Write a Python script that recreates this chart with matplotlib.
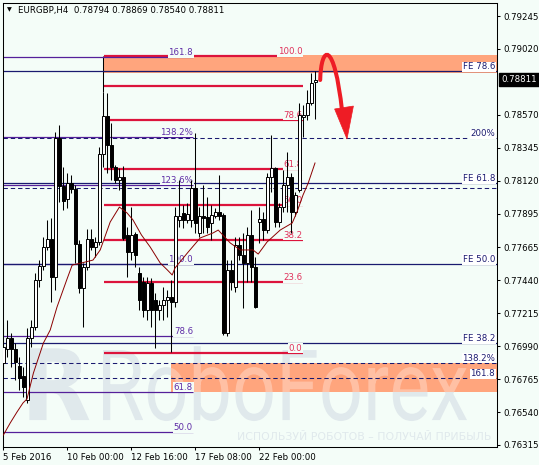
import matplotlib
matplotlib.use("Agg")
import matplotlib.pyplot as plt
import matplotlib.transforms as mtransforms
from matplotlib.patches import Rectangle, Polygon, PathPatch
from matplotlib.path import Path
from matplotlib.textpath import TextPath
from matplotlib.font_manager import FontProperties

# EURGBP H4 candles, 5 Feb - 23 Feb 2016
opens = [
    0.76875, 0.76970, 0.77046, 0.76970, 0.76854, 0.76786, 0.76622, 0.77046, 0.77121, 0.77442,
    0.77537, 0.77667, 0.77722, 0.77462, 0.78411, 0.78084, 0.77995, 0.78104, 0.78063, 0.77688,
    0.77387, 0.77530, 0.77722, 0.77667, 0.77701, 0.78302, 0.78562, 0.78364, 0.78213, 0.78125,
    0.78145, 0.77749, 0.77633, 0.77756, 0.77489, 0.77428, 0.77237, 0.77421, 0.77305, 0.77237,
    0.77271, 0.77305, 0.77326, 0.77291, 0.77851, 0.77899, 0.77851, 0.77851, 0.78070, 0.77763,
    0.77879, 0.77872, 0.77831, 0.77879, 0.77906, 0.77886, 0.77080, 0.77510, 0.77394, 0.77681,
    0.77612, 0.77558, 0.77749, 0.77530, 0.77838, 0.77858, 0.77783, 0.78145, 0.78207, 0.77838,
    0.77940, 0.78090, 0.78145, 0.77906, 0.78056, 0.78555, 0.78569, 0.78651, 0.78794]
highs = [
    0.77148, 0.77168, 0.77080, 0.77011, 0.76916, 0.76847, 0.77114, 0.77168, 0.77489, 0.77578,
    0.77735, 0.77851, 0.77865, 0.78452, 0.78500, 0.78213, 0.78172, 0.78159, 0.78090, 0.77715,
    0.77558, 0.77790, 0.77790, 0.77735, 0.78350, 0.78726, 0.78719, 0.78514, 0.78227, 0.78207,
    0.78220, 0.77804, 0.77940, 0.77769, 0.77530, 0.77462, 0.77462, 0.77455, 0.77353, 0.77305,
    0.77394, 0.77373, 0.77442, 0.77940, 0.78125, 0.77954, 0.77968, 0.78125, 0.78446, 0.77940,
    0.78090, 0.78009, 0.77954, 0.77933, 0.78159, 0.77899, 0.77578, 0.77578, 0.77735, 0.77735,
    0.77763, 0.77804, 0.77920, 0.77599, 0.77940, 0.77906, 0.78172, 0.78432, 0.78213, 0.77968,
    0.78193, 0.78316, 0.78172, 0.78043, 0.78651, 0.78637, 0.78739, 0.78855, 0.78869]
lows = [
    0.76806, 0.76916, 0.76847, 0.76759, 0.76690, 0.76643, 0.76602, 0.76984, 0.77100, 0.77394,
    0.77510, 0.77647, 0.77291, 0.77373, 0.77974, 0.77920, 0.77933, 0.78036, 0.77558, 0.77353,
    0.77121, 0.77510, 0.77647, 0.77599, 0.77681, 0.78213, 0.78172, 0.78125, 0.78104, 0.78056,
    0.77715, 0.77462, 0.77578, 0.77530, 0.77237, 0.77189, 0.77168, 0.77121, 0.76977, 0.77168,
    0.77168, 0.77189, 0.76950, 0.77257, 0.77804, 0.77797, 0.77831, 0.77804, 0.77763, 0.77735,
    0.77763, 0.77763, 0.77715, 0.77865, 0.77851, 0.77066, 0.77059, 0.77373, 0.77360, 0.77578,
    0.77250, 0.77428, 0.77428, 0.77250, 0.77694, 0.77715, 0.77763, 0.78043, 0.77804, 0.77804,
    0.77906, 0.77906, 0.77763, 0.77879, 0.78043, 0.78418, 0.78534, 0.78637, 0.78540]
closes = [
    0.76984, 0.77046, 0.76970, 0.76882, 0.76772, 0.76711, 0.77046, 0.77121, 0.77442, 0.77537,
    0.77667, 0.77722, 0.77462, 0.78411, 0.78084, 0.77981, 0.78104, 0.78063, 0.77688, 0.77387,
    0.77530, 0.77722, 0.77667, 0.77701, 0.78302, 0.78562, 0.78364, 0.78213, 0.78125, 0.78145,
    0.77728, 0.77633, 0.77749, 0.77612, 0.77305, 0.77237, 0.77421, 0.77237, 0.77237, 0.77271,
    0.77305, 0.77326, 0.77291, 0.77879, 0.77879, 0.77851, 0.77892, 0.78070, 0.77831, 0.77879,
    0.77865, 0.77804, 0.77886, 0.77906, 0.77879, 0.77080, 0.77510, 0.77428, 0.77681, 0.77612,
    0.77558, 0.77749, 0.77530, 0.77257, 0.77858, 0.77783, 0.78145, 0.78207, 0.77838, 0.77940,
    0.78090, 0.78145, 0.77906, 0.78022, 0.78569, 0.78569, 0.78651, 0.78787, 0.78811]

# moving average (bar position, price)
ma_x = [0, 1.7, 3.4, 4.9, 5.9, 7.5, 10.0, 11.7, 13.4, 15.9, 17.2, 19.5, 22.4, 24.2, 26.7,
        29.0, 30.9, 32.4, 34.5, 36.7, 39.2, 41.0, 42.2, 42.9, 46.2, 49.2, 52.4, 53.7, 56.7,
        59.2, 62.4, 63.7, 65.9, 69.2, 72.2, 73.4, 74.9, 76.2, 77.9]
ma_y = [0.76383, 0.76465, 0.76540, 0.76602, 0.76629, 0.76806, 0.77011, 0.77100, 0.77257,
        0.77448, 0.77544, 0.77558, 0.77578, 0.77647, 0.77838, 0.77940, 0.77900, 0.77852,
        0.77750, 0.77667, 0.77558, 0.77510, 0.77476, 0.77524, 0.77633, 0.77729, 0.77763,
        0.77783, 0.77695, 0.77647, 0.77647, 0.77619, 0.77701, 0.77783, 0.77831, 0.77906,
        0.78022, 0.78104, 0.78241]

date_ticks = [0, 16, 32, 48, 64]
date_labels = ["5 Feb 2016", "10 Feb 00:00", "12 Feb 16:00", "17 Feb 08:00", "22 Feb 00:00"]
price_ticks = [0.79245, 0.79020, 0.78570, 0.78345, 0.78120, 0.77895, 0.77665,
               0.77440, 0.77215, 0.76990, 0.76765, 0.76540, 0.76315]
last_price = 0.78811

# fibonacci retracement (red)
red_levels = [0.78972, 0.78767, 0.78538, 0.78200, 0.77954, 0.77718, 0.77425, 0.76946]
red_labels = ["100.0", "", "78.6", "61.8", "50.0", "38.2", "23.6", "0.0"]
red_span = (25.05, 74.9)
# fibonacci levels (purple)
purple_levels = [0.78965, 0.78422, 0.78094, 0.77551, 0.77059, 0.76677, 0.76403]
purple_labels = ["161.8", "138.2%", "123.6%", "100.0", "78.6", "61.8", "50.0"]
purple_end = 47.4
# fibonacci expansion (navy, solid)
fe_levels = [0.78869, 0.78101, 0.77551, 0.77011]
fe_labels = ["FE 78.6", "FE 61.8", "FE 50.0", "FE 38.2"]
# navy dashed levels
dash_levels = [0.78411, 0.78073, 0.76878, 0.76772]
dash_labels = ["200%", "", "138.2%", "161.8"]
# target zones
zone_lo = [0.78855, 0.76677]
zone_hi = [0.78978, 0.76875]
zone_start = [25.05, 41.9]

BG = "#F4FDF8"
RED = "#DC143C"
PURPLE = "#55209A"
NAVY = "#1A1A70"
WM = "#E0E9EC"
W, H = 539, 465
XMAX = 123.4

fig = plt.figure(figsize=(W / 100, H / 100), dpi=100, facecolor=BG)
ax = fig.add_axes([3 / W, 1 - 447 / H, 494 / W, 444 / H], facecolor=BG)
ax.set_xlim(-0.1, XMAX)
ax.set_ylim(0.76301, 0.79334)
plt.rcParams["font.family"] = "DejaVu Sans"
FS = 6.2


def wm_patch(path, width, cap, x0, y0, **kw):
    e = path.get_extents()
    tf = (mtransforms.Affine2D().translate(-e.x0, 0)
          .scale(width / e.width, cap / 0.711).translate(x0, y0) + ax.transData)
    return PathPatch(path, transform=tf, edgecolor="none", **kw)


# watermark: logo letter + brand name
wm_font = FontProperties(family="Roboto", weight="normal")
wm_text = TextPath((0, 0), "RoboForex", size=1, prop=wm_font)
wm_logo = TextPath((0, 0), "R", size=1, prop=FontProperties(family="DejaVu Sans", weight="bold"))
wm_parts = [(wm_text, 91, 0.00478, 24.9, 0.76485), (wm_logo, 15, 0.00478, 6.5, 0.76485)]
for p, w, c, x0, y0 in wm_parts:
    ax.add_patch(wm_patch(p, w, c, x0, y0, facecolor=WM, zorder=0.5))
ax.text(58.4, 0.76349, "ИСПОЛЬЗУЙ РОБОТОВ – ПОЛУЧАЙ ПРИБЫЛЬ", fontsize=7.8,
        color=WM, zorder=0.5)

# zones (watermark shows through lighter)
for lo, hi, x0 in zip(zone_lo, zone_hi, zone_start):
    rect = Rectangle((x0, lo), XMAX - x0, hi - lo, facecolor="#FFA57D",
                     edgecolor="none", zorder=1)
    ax.add_patch(rect)
    shine = wm_patch(wm_text, 91, 0.00478, 24.9, 0.76485, facecolor="white",
                     alpha=0.3, zorder=1.2)
    ax.add_patch(shine)
    shine.set_clip_path(rect)

lbl_box = dict(facecolor=BG, edgecolor="none", pad=0.4)

for y, t in zip(red_levels, red_labels):
    ax.hlines(y, red_span[0], red_span[1], color=RED, lw=1.6, zorder=2)
    if t:
        ax.text(red_span[1] - 0.2, y, t, color="#E0305A", fontsize=FS, ha="right",
                va="bottom", bbox=lbl_box, zorder=3)
ax.vlines(25, highs[25], red_levels[0], color="black", lw=0.75, zorder=2)

for y, t in zip(purple_levels, purple_labels):
    ax.hlines(y, -0.1, purple_end, color=PURPLE, lw=0.9, zorder=2)
    ax.text(purple_end, y, t, color="#5E2BA6", fontsize=FS, ha="right", va="bottom",
            bbox=lbl_box, zorder=3)

for y, t in zip(fe_levels, fe_labels):
    ax.axhline(y, color=NAVY, lw=0.9, zorder=2)
    ax.text(XMAX - 0.5, y, t, color=NAVY, fontsize=FS, ha="right", va="bottom",
            bbox=dict(facecolor="white", edgecolor="none", pad=0.4), zorder=3)

for y, t in zip(dash_levels, dash_labels):
    ax.axhline(y, color=NAVY, lw=0.75, dashes=(4.2, 2.8), zorder=2)
    if t:
        ax.text(XMAX - 0.5, y, t, color=NAVY, fontsize=FS, ha="right", va="bottom",
                bbox=dict(facecolor="white", edgecolor="none", pad=0.4), zorder=3)

# candles
bars = list(range(len(opens)))
ax.vlines(bars, lows, highs, color="black", lw=0.75, zorder=4)
for i in bars:
    o, c = opens[i], closes[i]
    body = max(abs(c - o), 0.00002)
    up = c >= o
    ax.bar(i, body, bottom=min(o, c), width=0.7, color="white" if up else "black",
           edgecolor="black", linewidth=0.7, zorder=5)

ax.plot(ma_x, ma_y, color="#8B0000", lw=0.7, zorder=6)

# forecast arrow
arrow_path = Path([(79.2, 0.78808), (79.4, 0.79047), (82.7, 0.79090), (84.7, 0.78589)],
                  [Path.MOVETO, Path.CURVE4, Path.CURVE4, Path.CURVE4])
ax.add_patch(PathPatch(arrow_path, fill=False, edgecolor="#EE1C25", lw=2.9,
                       capstyle="round", zorder=7))
ax.add_patch(Polygon([(82.8, 0.78610), (87.5, 0.78630), (85.9, 0.78405)],
                     closed=True, facecolor="#EE1C25", edgecolor="#EE1C25", lw=0.5, zorder=7))

# axes
for s in ax.spines.values():
    s.set_linewidth(0.75)
    s.set_color("black")
ax.yaxis.tick_right()
ax.set_yticks(price_ticks)
ax.set_yticklabels([f"{p:.5f}" for p in price_ticks], fontsize=FS)
ax.set_xticks(date_ticks)
ax.set_xticklabels(date_labels, fontsize=FS, ha="left")
ax.tick_params(axis="both", length=2.5, width=0.75, pad=2, colors="black")

tr = mtransforms.blended_transform_factory(ax.transAxes, ax.transData)
ax.text(1 + 4 / 494, last_price, f"{last_price:.5f}", transform=tr, color="white",
        fontsize=FS, ha="left", va="center",
        bbox=dict(facecolor="black", edgecolor="black", pad=1.6), zorder=10)

fig.text(9.5 / W, 1 - 10 / H, "▼", fontsize=4.5, ha="center", va="center")
fig.text(18 / W, 1 - 10 / H, "EURGBP,H4  0.78794 0.78869 0.78540 0.78811",
         fontsize=FS, ha="left", va="center")

fig.savefig("out.png", dpi=100, facecolor=BG)
